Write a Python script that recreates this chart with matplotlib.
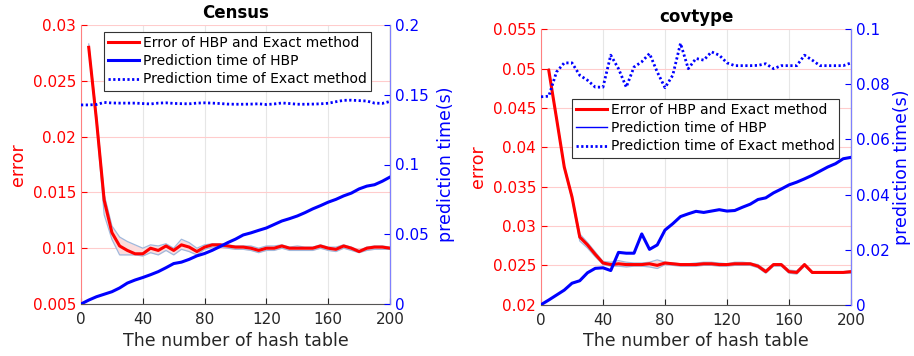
import numpy as np
import matplotlib
matplotlib.use("Agg")
import matplotlib.pyplot as plt
from matplotlib.ticker import FuncFormatter
from matplotlib.lines import Line2D

plt.rcParams['font.family'] = ['DejaVu Sans']

# ---------------- data ----------------
x_time = np.arange(0, 201, 5)
x_err = np.arange(5, 201, 5)

census_err = [0.0280, 0.0215, 0.0143, 0.0114, 0.0102, 0.0098, 0.0095, 0.0095, 0.0100, 0.0098,
              0.0102, 0.0098, 0.0103, 0.0101, 0.0097, 0.0101, 0.0103, 0.0103, 0.0102, 0.0101,
              0.0101, 0.0100, 0.0098, 0.0100, 0.0100, 0.0102, 0.0100, 0.0100, 0.0100, 0.0100,
              0.0102, 0.0100, 0.0099, 0.0102, 0.0100, 0.0097, 0.0100, 0.0101, 0.0101, 0.0100]
census_lo = [0.0279, 0.0212, 0.0130, 0.0108, 0.0094, 0.0094, 0.0094, 0.0093, 0.0096, 0.0094,
             0.0098, 0.0094, 0.0099, 0.0097, 0.0094, 0.0099, 0.0101, 0.0101, 0.0100, 0.0099,
             0.0099, 0.0098, 0.0096, 0.0098, 0.0098, 0.0100, 0.0098, 0.0098, 0.0098, 0.0098,
             0.0100, 0.0098, 0.0097, 0.0100, 0.0098, 0.0096, 0.0098, 0.0099, 0.0099, 0.0099]
census_hi = [0.0283, 0.0220, 0.0148, 0.0120, 0.0110, 0.0106, 0.0103, 0.0100, 0.0103, 0.0102,
             0.0104, 0.0100, 0.0108, 0.0105, 0.0100, 0.0103, 0.0104, 0.0104, 0.0103, 0.0102,
             0.0102, 0.0102, 0.0100, 0.0102, 0.0102, 0.0103, 0.0101, 0.0102, 0.0101, 0.0101,
             0.0103, 0.0101, 0.0101, 0.0103, 0.0101, 0.0098, 0.0101, 0.0102, 0.0102, 0.0101]
census_hbp = [0.0, 0.0028, 0.0052, 0.0070, 0.0088, 0.0115, 0.0150, 0.0172, 0.0190, 0.0210,
              0.0232, 0.0260, 0.0290, 0.0300, 0.0320, 0.0345, 0.0362, 0.0385, 0.0412, 0.0440,
              0.0465, 0.0495, 0.0510, 0.0528, 0.0545, 0.0570, 0.0595, 0.0612, 0.0631, 0.0655,
              0.0682, 0.0705, 0.0730, 0.0750, 0.0775, 0.0795, 0.0825, 0.0845, 0.0855, 0.0880,
              0.0910]
census_exact = [0.1427, 0.1427, 0.1430, 0.1445, 0.1441, 0.1440, 0.1440, 0.1440, 0.1437, 0.1434,
                0.1440, 0.1442, 0.1438, 0.1436, 0.1435, 0.1440, 0.1442, 0.1440, 0.1437, 0.1433,
                0.1432, 0.1432, 0.1433, 0.1435, 0.1430, 0.1434, 0.1441, 0.1437, 0.1432, 0.1432,
                0.1433, 0.1435, 0.1439, 0.1450, 0.1460, 0.1461, 0.1458, 0.1455, 0.1440, 0.1438,
                0.1452]

cov_err = [0.0498, 0.0437, 0.0375, 0.0337, 0.0286, 0.0276, 0.0264, 0.0253, 0.0251, 0.0252,
           0.0251, 0.0251, 0.0251, 0.0252, 0.0250, 0.0253, 0.0252, 0.0251, 0.0251, 0.0251,
           0.0252, 0.0252, 0.0251, 0.0251, 0.0252, 0.0252, 0.0252, 0.0249, 0.0242, 0.0251,
           0.0251, 0.0242, 0.0241, 0.0251, 0.0241, 0.0241, 0.0241, 0.0241, 0.0241, 0.0242]
cov_lo = [0.0497, 0.0435, 0.0373, 0.0334, 0.0281, 0.0272, 0.0261, 0.0251, 0.0249, 0.0249,
          0.0248, 0.0249, 0.0249, 0.0248, 0.0246, 0.0251, 0.0250, 0.0249, 0.0249, 0.0249,
          0.0250, 0.0250, 0.0249, 0.0249, 0.0250, 0.0250, 0.0250, 0.0247, 0.0240, 0.0249,
          0.0249, 0.0240, 0.0239, 0.0249, 0.0240, 0.0240, 0.0240, 0.0240, 0.0240, 0.0240]
cov_hi = [0.0500, 0.0439, 0.0377, 0.0339, 0.0290, 0.0279, 0.0267, 0.0255, 0.0254, 0.0256,
          0.0254, 0.0253, 0.0253, 0.0254, 0.0257, 0.0254, 0.0253, 0.0252, 0.0252, 0.0253,
          0.0254, 0.0254, 0.0253, 0.0252, 0.0254, 0.0254, 0.0253, 0.0251, 0.0244, 0.0252,
          0.0252, 0.0244, 0.0243, 0.0252, 0.0242, 0.0242, 0.0242, 0.0242, 0.0242, 0.0243]
cov_hbp = [0.0, 0.0017, 0.0035, 0.0053, 0.0078, 0.0087, 0.0116, 0.0132, 0.0134, 0.0124,
           0.0190, 0.0187, 0.0187, 0.0257, 0.0201, 0.0217, 0.0271, 0.0294, 0.0320, 0.0330,
           0.0339, 0.0335, 0.0340, 0.0345, 0.0340, 0.0342, 0.0354, 0.0365, 0.0382, 0.0388,
           0.0406, 0.0420, 0.0435, 0.0445, 0.0457, 0.0470, 0.0485, 0.0500, 0.0512, 0.0530,
           0.0535]
cov_exact = [0.0755, 0.0757, 0.0845, 0.0878, 0.0878, 0.0833, 0.0815, 0.0790, 0.0790, 0.0906,
             0.0857, 0.0790, 0.0863, 0.0882, 0.0912, 0.0845, 0.0788, 0.0833, 0.0949, 0.0857,
             0.0894, 0.0888, 0.0918, 0.0906, 0.0878, 0.0868, 0.0868, 0.0868, 0.0869, 0.0875,
             0.0857, 0.0868, 0.0868, 0.0868, 0.0906, 0.0888, 0.0868, 0.0868, 0.0868, 0.0868,
             0.0878]

RED = '#ff0000'
BLUE = '#0000ff'
GRAY = '#262626'
DOTS = (0, (0.8, 0.9))
fmt = FuncFormatter(lambda v, p: '{:g}'.format(round(v, 6)))

fig = plt.figure(figsize=(9.14, 3.56), dpi=100)


def panel(rect, title, err, lo, hi, hbp, exact, ylim_l, yticks_l, ylim_r, yticks_r,
          leg_bbox, thin_hbp_handle, rpad):
    ax = fig.add_axes(rect)
    ax.fill_between(x_err, lo, hi, color='#fbdcdc', lw=0, zorder=1)
    ax.plot(x_err, lo, color='#9fb8dc', lw=0.9, zorder=2)
    ax.plot(x_err, hi, color='#9fb8dc', lw=0.9, zorder=2)
    ax.plot(x_err, err, color=RED, lw=2.2, zorder=3)
    ax.set_xlim(0, 200)
    ax.set_ylim(*ylim_l)
    ax.set_xticks(np.arange(0, 201, 40))
    ax.set_yticks(yticks_l)
    ax.yaxis.set_major_formatter(fmt)
    ax.tick_params(axis='y', colors=RED, labelsize=11, direction='in', length=4)
    ax.tick_params(axis='x', colors=GRAY, labelsize=11, direction='in', length=4, pad=6)
    ax.grid(axis='y', color='#ffcccc', lw=0.8)
    ax.grid(axis='x', color='#e6e6e6', lw=0.8)
    ax.set_axisbelow(True)
    ax.set_xlabel('The number of hash table', fontsize=12.5, color=GRAY, labelpad=3)
    ax.set_ylabel('error', fontsize=12.5, color=RED, labelpad=4)
    ax.set_title(title, fontsize=12, fontweight='bold', pad=5)
    ax.spines['top'].set_visible(False)
    ax.spines['left'].set_color('#ff8080')
    ax.spines['bottom'].set_color('#555555')

    ax2 = ax.twinx()
    ax2.plot(x_time, hbp, color=BLUE, lw=2.2)
    ax2.plot(x_time, exact, color=BLUE, lw=2.0, ls=DOTS)
    ax2.set_ylim(*ylim_r)
    ax2.set_yticks(yticks_r)
    ax2.yaxis.set_major_formatter(fmt)
    ax2.tick_params(axis='y', colors=BLUE, labelsize=11, direction='in', length=4)
    ax2.set_ylabel('prediction time(s)', fontsize=12.5, color=BLUE, rotation=90, labelpad=rpad)
    ax2.spines['top'].set_visible(False)
    ax2.spines['left'].set_visible(False)
    ax2.spines['bottom'].set_visible(False)
    ax2.spines['right'].set_color('#8080ff')

    handles = [Line2D([], [], color=RED, lw=2.2),
               Line2D([], [], color=BLUE, lw=1.0 if thin_hbp_handle else 2.2),
               Line2D([], [], color=BLUE, lw=2.0, ls=DOTS)]
    labels = ['Error of HBP and Exact method', 'Prediction time of HBP',
              'Prediction time of Exact method']
    leg = ax2.legend(handles, labels, loc='upper left', bbox_to_anchor=leg_bbox,
                     fontsize=10, frameon=True, fancybox=False, framealpha=1,
                     edgecolor='#333333', handlelength=2.2, handletextpad=0.3,
                     labelspacing=0.3, borderpad=0.3, borderaxespad=0)
    leg.get_frame().set_linewidth(0.8)
    return ax, ax2


panel([81 / 914, 52 / 356, 309 / 914, 279 / 356], 'Census',
      census_err, census_lo, census_hi, census_hbp, census_exact,
      (0.005, 0.03), np.arange(0.005, 0.0301, 0.005),
      (0, 0.2), np.arange(0, 0.201, 0.05),
      ((104 - 81) / 309, (304 - 32) / 279), False, 6)

panel([541 / 914, 51.3 / 356, 310 / 914, 275.4 / 356], 'covtype',
      cov_err, cov_lo, cov_hi, cov_hbp, cov_exact,
      (0.02, 0.055), np.arange(0.02, 0.0551, 0.005),
      (0, 0.1), np.arange(0, 0.101, 0.02),
      ((572 - 541) / 310, (304.7 - 99) / 275.4), True, 2)

fig.savefig('out.png', dpi=100)
